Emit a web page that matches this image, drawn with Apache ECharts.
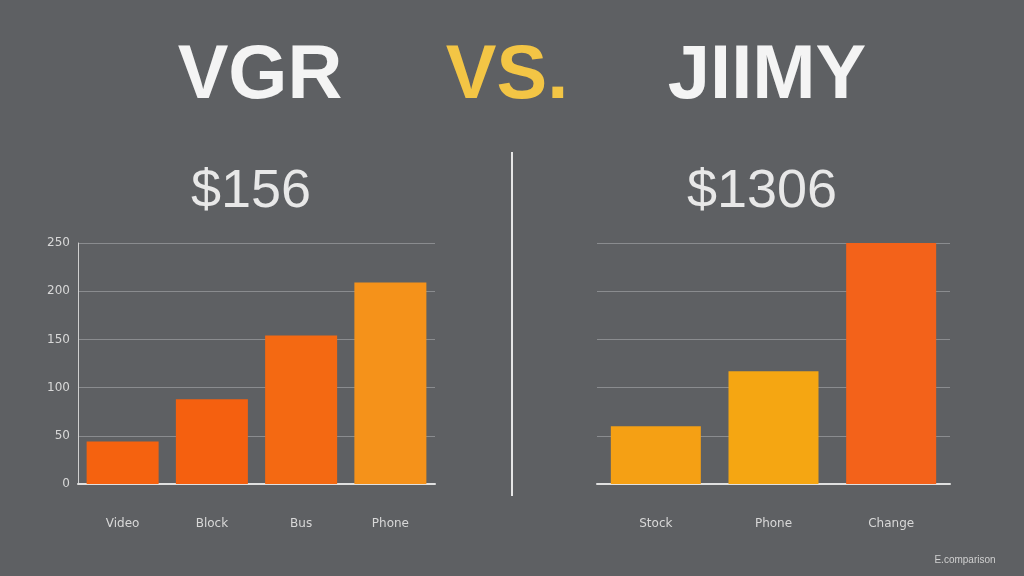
<!DOCTYPE html>
<html><head><meta charset="utf-8">
<script src="https://cdn.jsdelivr.net/npm/echarts@6/dist/echarts.min.js"></script>
<style>html,body{margin:0;padding:0;background:#5e6063}#c{width:1024px;height:576px}</style>
</head><body><div id="c"></div>
<script>
const leftCategories = ['Video','Block','Bus','Phone'];
const leftValues = [44, 88, 154, 209];
const leftColors = ['#f5620f','#f5600f','#f46912','#f5921a'];
const rightCategories = ['Stock','Phone','Change'];
const rightValues = [60, 117, 252];
const rightColors = ['#f5a014','#f5a612','#f3621a'];
const yTicks = ['0','50','100','150','200','250'];

const chart = echarts.init(document.getElementById('c'));
const axisLabelStyle = {color:'#d8d8d8', fontSize:12, fontFamily:'DejaVu Sans'};
function xAxis(cats, gi){
  return {type:'category', gridIndex:gi, data:cats, offset:0,
    axisLine:{show:true, lineStyle:{color:'#e0e0e0', width:2}},
    axisTick:{show:false}, axisLabel:Object.assign({margin:34}, axisLabelStyle)};
}
function yAxis(gi, showLabels){
  return {type:'value', gridIndex:gi, min:0, max:250, interval:50,
    axisLine:{show:gi===0, lineStyle:{color:'#cfcfcf', width:1}},
    axisTick:{show:false},
    splitLine:{lineStyle:{color:'#8a8c8f', width:1}},
    axisLabel:Object.assign({show:showLabels, formatter:v=>yTicks[v/50]}, axisLabelStyle)};
}
chart.setOption({
  backgroundColor:'#5e6063',
  title:[
    {text:'VGR', left:255, top:34, textAlign:'center', textStyle:{color:'#f4f4f4', fontSize:76, fontWeight:'bold', fontFamily:'Liberation Sans'}},
    {text:'VS.', left:502, top:34, textAlign:'center', textStyle:{color:'#f3c545', fontSize:76, fontWeight:'bold', fontFamily:'Liberation Sans'}},
    {text:'JIIMY', left:762, top:34, textAlign:'center', textStyle:{color:'#f4f4f4', fontSize:76, fontWeight:'bold', fontFamily:'Liberation Sans'}},
    {text:'$156', left:246, top:160, textAlign:'center', textStyle:{color:'#e8e8e8', fontSize:54, fontWeight:'normal', fontFamily:'Liberation Sans'}},
    {text:'$1306', left:757, top:160, textAlign:'center', textStyle:{color:'#e8e8e8', fontSize:54, fontWeight:'normal', fontFamily:'Liberation Sans'}},
    {text:'E.comparison', left:960, top:550, textAlign:'center', textStyle:{color:'#d0d0d0', fontSize:10, fontWeight:'normal'}}
  ],
  graphic:[{type:'line', shape:{x1:512,y1:152,x2:512,y2:496}, style:{stroke:'#e6e6e6', lineWidth:2}}],
  grid:[
    {left:78, right:1024-435, top:243, bottom:576-484},
    {left:597, right:1024-950, top:243, bottom:576-484}
  ],
  xAxis:[xAxis(leftCategories,0), xAxis(rightCategories,1)],
  yAxis:[yAxis(0,true), yAxis(1,false)],
  series:[
    {type:'bar', xAxisIndex:0, yAxisIndex:0, barWidth:72,
      data:leftValues.map((v,i)=>({value:v, itemStyle:{color:leftColors[i]}}))},
    {type:'bar', xAxisIndex:1, yAxisIndex:1, barWidth:90,
      data:rightValues.map((v,i)=>({value:v, itemStyle:{color:rightColors[i]}}))}
  ]
});
</script></body></html>
